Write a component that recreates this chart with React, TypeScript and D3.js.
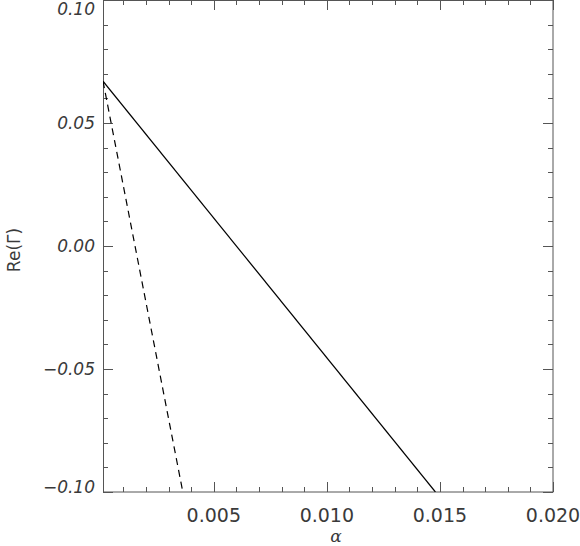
import React from 'react';
import * as d3 from 'd3';

// growth rate Re(Gamma) against alpha, two cases
const solidAlpha = [0.0001, 0.0148];
const solidRe = [0.067, -0.1];
const dashedAlpha = [0.0001, 0.00363];
const dashedRe = [0.067, -0.1];

const xTicks = [0.005, 0.01, 0.015, 0.02];
const xTickLabels = ['0.005', '0.010', '0.015', '0.020'];
const yTicks = [-0.1, -0.05, 0, 0.05, 0.1];
const yTickLabels = ['\u22120.10', '\u22120.05', '0.00', '0.05', '0.10'];

const W = 580;
const H = 546;
const margin = { top: 0, right: 27, bottom: 54, left: 103 };

export default function App() {
  const w = W - margin.left - margin.right;
  const h = H - margin.top - margin.bottom;

  const x = d3.scaleLinear().domain([0.0001, 0.02]).range([0, w]);
  const y = d3.scaleLinear().domain([-0.1, 0.1]).range([h, 0]);

  const xMinor = d3.range(1, 21).map(i => i * 0.001);
  const yMinor = d3.range(-10, 11).map(i => i * 0.01);
  const isMajor = (v: number, step: number) => Math.abs(v / step - Math.round(v / step)) < 1e-6;

  const line = d3.line<[number, number]>().x(d => x(d[0])).y(d => y(d[1]));
  const solid = solidAlpha.map((a, i) => [a, solidRe[i]] as [number, number]);
  const dashed = dashedAlpha.map((a, i) => [a, dashedRe[i]] as [number, number]);

  const axisColor = '#555';
  const textColor = '#3a3a3a';

  return (
    <svg width={W} height={H} style={{ position: 'absolute', left: 0, top: 0, background: '#fff' }}>
      <g transform={`translate(${margin.left},${margin.top})`}>
        <defs>
          <clipPath id="plot">
            <rect x={0} y={0} width={w} height={h} />
          </clipPath>
        </defs>

        {/* frame */}
        <rect x={0.5} y={0.5} width={w - 0.5} height={h - 0.5} fill="none" stroke={axisColor} strokeWidth={1} />

        {/* x ticks, bottom and top */}
        {xMinor.map(v => {
          const len = isMajor(v, 0.005) ? 10 : 5;
          const px = Math.round(x(v)) + 0.5;
          return (
            <g key={'x' + v}>
              <line x1={px} x2={px} y1={h} y2={h - len} stroke={axisColor} />
              <line x1={px} x2={px} y1={0} y2={len} stroke={axisColor} />
            </g>
          );
        })}

        {/* y ticks, left and right */}
        {yMinor.map(v => {
          const len = isMajor(v, 0.05) ? 10 : 5;
          const py = Math.round(y(v)) + 0.5;
          return (
            <g key={'y' + v}>
              <line x1={0} x2={len} y1={py} y2={py} stroke={axisColor} />
              <line x1={w} x2={w - len} y1={py} y2={py} stroke={axisColor} />
            </g>
          );
        })}

        {/* x tick labels */}
        {xTicks.map((v, i) => (
          <text key={'xl' + v} x={x(v)} y={h + 30} textAnchor="middle"
            style={{ fontFamily: 'DejaVu Sans', fontSize: 19, fill: textColor }}>
            {xTickLabels[i]}
          </text>
        ))}

        {/* y tick labels (italic), kept inside the frame height */}
        {yTicks.map((v, i) => (
          <text key={'yl' + v} x={-8} y={Math.min(Math.max(y(v), 9), h - 5) + 6} textAnchor="end"
            style={{ fontFamily: 'DejaVu Sans', fontStyle: 'italic', fontSize: 17, fill: textColor }}>
            {yTickLabels[i]}
          </text>
        ))}

        {/* curves */}
        <g clipPath="url(#plot)">
          <path d={line(solid) ?? ''} fill="none" stroke="#000" strokeWidth={1.2} />
          <path d={line(dashed) ?? ''} fill="none" stroke="#000" strokeWidth={1.2} strokeDasharray="7,5" />
        </g>

        {/* axis titles */}
        <text x={w / 2 + 8} y={h + 50} textAnchor="middle"
          style={{ fontFamily: 'DejaVu Serif', fontStyle: 'italic', fontSize: 17, fill: textColor }}>
          α
        </text>
      </g>
      <text transform={`translate(20,${margin.top + h / 2 + 4}) rotate(-90)`} textAnchor="middle"
        style={{ fontFamily: 'DejaVu Sans', fontSize: 17, fill: textColor }}>
        Re(Γ)
      </text>
    </svg>
  );
}
